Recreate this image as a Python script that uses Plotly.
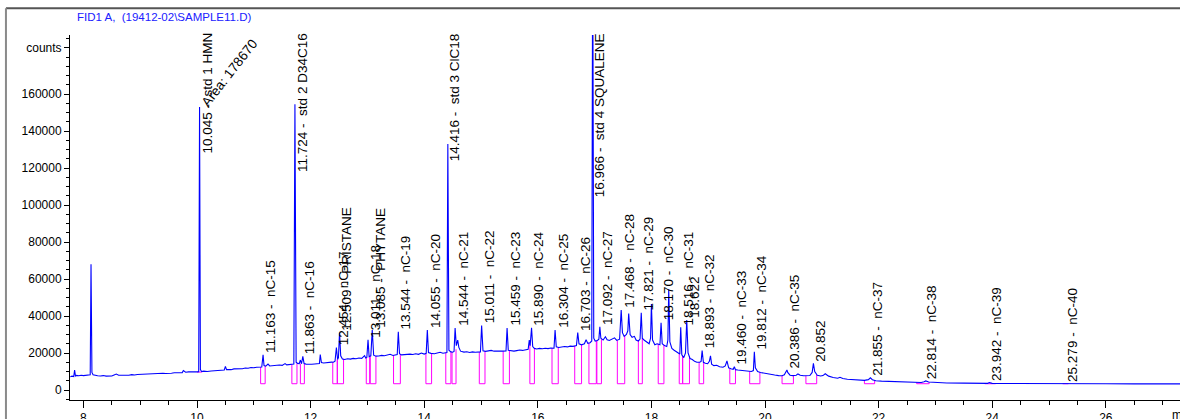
import plotly.graph_objects as go

# ---------------- data ----------------
rt_min = [
    7.77, 7.80, 7.83, 7.845, 7.86, 7.88, 7.92, 7.96, 8.00, 8.05,
    8.10, 8.12, 8.134, 8.15, 8.17, 8.20, 8.25, 8.30, 8.35, 8.40,
    8.45, 8.50, 8.55, 8.58, 8.62, 8.70, 8.75, 8.80, 8.85, 8.90,
    8.95, 9.00, 9.05, 9.10, 9.15, 9.20, 9.25, 9.30, 9.35, 9.40,
    9.45, 9.50, 9.55, 9.60, 9.65, 9.70, 9.74, 9.76, 9.80, 9.85,
    9.90, 9.95, 10.00, 10.03, 10.045, 10.06, 10.08, 10.12, 10.18, 10.25,
    10.30, 10.35, 10.40, 10.45, 10.48, 10.50, 10.52, 10.56, 10.60, 10.65,
    10.70, 10.75, 10.80, 10.85, 10.90, 10.95, 11.00, 11.05, 11.10, 11.14,
    11.163, 11.18, 11.21, 11.25, 11.28, 11.33, 11.40, 11.45, 11.50, 11.55,
    11.58, 11.62, 11.67, 11.705, 11.724, 11.745, 11.77, 11.80, 11.82, 11.84,
    11.863, 11.885, 11.92, 11.97, 12.02, 12.07, 12.12, 12.155, 12.17, 12.19,
    12.23, 12.28, 12.33, 12.37, 12.40, 12.43, 12.454, 12.475, 12.49, 12.509,
    12.53, 12.56, 12.60, 12.65, 12.70, 12.75, 12.80, 12.85, 12.90, 12.95,
    12.97, 12.99, 13.011, 13.03, 13.06, 13.085, 13.11, 13.15, 13.20, 13.25,
    13.30, 13.35, 13.40, 13.45, 13.50, 13.525, 13.544, 13.565, 13.60, 13.65,
    13.70, 13.75, 13.80, 13.85, 13.90, 13.95, 14.00, 14.035, 14.055, 14.075,
    14.12, 14.18, 14.23, 14.28, 14.33, 14.38, 14.40, 14.416, 14.435, 14.47,
    14.50, 14.525, 14.544, 14.565, 14.59, 14.61, 14.64, 14.70, 14.75, 14.80,
    14.85, 14.90, 14.95, 14.99, 15.011, 15.035, 15.08, 15.13, 15.18, 15.23,
    15.28, 15.33, 15.38, 15.44, 15.459, 15.48, 15.53, 15.58, 15.63, 15.68,
    15.73, 15.78, 15.83, 15.85, 15.865, 15.89, 15.91, 15.94, 15.98, 16.03,
    16.08, 16.13, 16.18, 16.23, 16.285, 16.304, 16.325, 16.37, 16.42, 16.47,
    16.52, 16.57, 16.62, 16.68, 16.703, 16.725, 16.77, 16.82, 16.85, 16.88,
    16.92, 16.95, 16.966, 16.985, 17.01, 17.05, 17.075, 17.092, 17.11, 17.15,
    17.19, 17.22, 17.26, 17.31, 17.35, 17.39, 17.44, 17.468, 17.49, 17.52,
    17.56, 17.585, 17.60, 17.625, 17.66, 17.70, 17.73, 17.77, 17.80, 17.821,
    17.84, 17.87, 17.92, 17.96, 17.985, 18.00, 18.02, 18.06, 18.10, 18.15,
    18.170, 18.19, 18.23, 18.27, 18.29, 18.305, 18.325, 18.36, 18.40, 18.45,
    18.50, 18.516, 18.535, 18.57, 18.60, 18.622, 18.645, 18.68, 18.72, 18.76,
    18.80, 18.85, 18.875, 18.893, 18.915, 18.95, 18.99, 19.02, 19.04, 19.06,
    19.10, 19.15, 19.20, 19.26, 19.30, 19.33, 19.36, 19.40, 19.44, 19.46,
    19.48, 19.52, 19.58, 19.64, 19.70, 19.76, 19.795, 19.812, 19.83, 19.87,
    19.92, 19.97, 20.03, 20.10, 20.17, 20.24, 20.30, 20.34, 20.37, 20.386,
    20.40, 20.44, 20.49, 20.55, 20.58, 20.62, 20.68, 20.74, 20.79, 20.83,
    20.852, 20.875, 20.92, 20.98, 21.02, 21.06, 21.12, 21.20, 21.28, 21.32,
    21.37, 21.45, 21.55, 21.65, 21.75, 21.82, 21.855, 21.89, 21.95, 22.05,
    22.20, 22.40, 22.60, 22.75, 22.80, 22.83, 22.88, 23.00, 23.20, 23.50,
    23.80, 23.92, 23.95, 24.00, 24.30, 24.60, 25.00, 25.27, 25.30, 25.60,
    26.00, 26.50, 27.00, 27.31,
]
counts = [
    7200, 7500, 7300, 10800, 7600, 7900, 7700, 8000, 7800, 7900,
    7800, 8200, 68000, 9500, 8300, 8000, 7700, 7600, 7800, 7500,
    7700, 7600, 8300, 8600, 8000, 7900, 8200, 8000, 8300, 8100,
    8400, 8500, 8300, 8600, 8500, 8800, 8600, 8900, 8800, 9100,
    8900, 9200, 9100, 9300, 9200, 9500, 9400, 10500, 9600, 9800,
    9700, 9900, 9800, 9900, 153000, 11000, 10000, 10200, 10000, 10300,
    10400, 10600, 10500, 10900, 10800, 12800, 11000, 11100, 11000, 11400,
    11300, 11600, 11500, 11900, 11800, 12200, 12000, 12300, 12500, 12400,
    19000, 13200, 12900, 14000, 13000, 13200, 13100, 13500, 13300, 14300,
    13600, 13700, 13600, 14000, 154500, 15000, 14400, 14300, 16200, 14200,
    18200, 14300, 14000, 13800, 13900, 14100, 14000, 14300, 19200, 14800,
    14600, 14900, 15000, 15100, 15000, 15600, 23000, 16500, 17500, 31000,
    18500, 16800, 16500, 16900, 16700, 17100, 16900, 17300, 17100, 18600,
    17300, 17600, 27200, 18000, 18500, 32400, 18800, 18300, 18400, 18700,
    18500, 18800, 19300, 18700, 18900, 19200, 31500, 19600, 19000, 19200,
    19100, 19400, 19200, 19600, 19300, 20000, 19400, 19800, 32400, 20200,
    19800, 19600, 20000, 20400, 19900, 20100, 20300, 133000, 21500, 20600,
    20400, 20800, 33500, 24000, 27000, 23000, 21000, 20500, 20700, 20300,
    20600, 20400, 20700, 20600, 34800, 21200, 20900, 21100, 21400, 21000,
    20900, 21200, 21000, 21100, 33500, 21500, 21200, 21000, 21300, 21600,
    21400, 21700, 22000, 27000, 24000, 33700, 23500, 22500, 22200, 22500,
    22300, 22600, 22400, 22700, 22600, 32400, 23300, 23000, 23300, 23500,
    23300, 23700, 23600, 24000, 31000, 25000, 24400, 25000, 27200, 25200,
    25600, 26500, 250000, 28000, 26500, 26800, 27500, 34200, 28000, 27000,
    28800, 27200, 26800, 27400, 28200, 26800, 27500, 43200, 31000, 29000,
    30000, 32000, 41400, 30000, 28500, 29000, 27000, 26500, 27500, 41800,
    28000, 27000, 26000, 25000, 28000, 46500, 27000, 24500, 25000, 24500,
    36400, 25000, 24000, 23500, 27000, 54400, 26000, 22500, 21500, 20500,
    19500, 33900, 19000, 17500, 20000, 37800, 20000, 17000, 16500, 15500,
    15000, 15000, 15500, 21300, 15000, 14500, 14200, 15500, 18500, 14000,
    13200, 13400, 12600, 12300, 13000, 15700, 12000, 11500, 11200, 12600,
    11000, 10800, 10600, 10500, 10200, 10000, 10500, 20700, 12000, 10000,
    9500, 9300, 8800, 8500, 8100, 7800, 7700, 8200, 9500, 10800,
    9500, 8000, 7800, 8000, 8700, 8000, 7700, 7600, 7800, 9500,
    14400, 10000, 8000, 7600, 7800, 8800, 7500, 6800, 6400, 6900,
    6200, 5800, 5600, 5400, 5200, 5600, 6600, 5600, 5000, 4800,
    4600, 4400, 4200, 4100, 4500, 4900, 4300, 4000, 3800, 3700,
    3600, 3600, 4000, 3600, 3500, 3400, 3400, 3400, 3500, 3350,
    3350, 3300, 3300, 3300,
]

# peak labels
label_rt = [10.045, 11.163, 11.724, 11.863, 12.454, 12.509, 13.011, 13.085,
            13.544, 14.055, 14.416, 14.544, 15.011, 15.459, 15.890, 16.304,
            16.703, 16.966, 17.092, 17.468, 17.821, 18.170, 18.516, 18.622,
            18.893, 19.460, 19.812, 20.386, 20.852, 21.855, 22.814, 23.942,
            25.279]
label_name = ["std 1 HMN", "nC-15", "std 2 D34C16", "nC-16", "nC-17", "PRISTANE",
              "nC-18", "PHYTANE", "nC-19", "nC-20", "std 3 ClC18", "nC-21",
              "nC-22", "nC-23", "nC-24", "nC-25", "nC-26", "std 4 SQUALENE",
              "nC-27", "nC-28", "nC-29", "nC-30", "nC-31", "", "nC-32", "nC-33",
              "nC-34", "nC-35", "", "nC-37", "nC-38", "nC-39", "nC-40"]
label_apex = [153000, 19000, 154500, 18200, 23000, 31000, 27200, 32400,
              31500, 32400, 133000, 33500, 34800, 33500, 33700, 32400,
              31000, 250000, 34200, 43200, 41800, 36400, 33900, 37800,
              21300, 12600, 20700, 10800, 14400, 6600, 4900, 4000,
              3500]
tall_label_rt = [10.045, 11.724, 14.416, 16.966]
area_text = "Area: 178670"

# integration baseline events
int_start = [10.00, 11.12, 11.67, 11.82, 12.39, 12.47, 12.98, 13.05, 13.46, 14.03,
             14.38, 14.49, 14.97, 15.39, 15.86, 16.25, 16.65, 16.90, 17.04, 17.40,
             17.77, 18.12, 18.49, 18.55, 18.84, 19.38, 19.73, 20.30, 20.72, 21.75,
             22.67, 23.87, 25.24]
int_end = [10.09, 11.20, 11.76, 11.89, 12.47, 12.58, 13.04, 13.15, 13.58, 14.13,
           14.47, 14.56, 15.07, 15.50, 15.94, 16.36, 16.77, 17.03, 17.12, 17.53,
           17.84, 18.22, 18.55, 18.67, 18.92, 19.48, 19.91, 20.50, 20.91, 21.93,
           22.89, 24.06, 25.34]
int_level_start = [9700, 12500, 13600, 14200, 15000, 16500, 17400, 18200, 18800, 19700,
                   20100, 20400, 20600, 21000, 25000, 22600, 23800, 25500, 26800, 26800,
                   26500, 25000, 19800, 18300, 15000, 11500, 10100, 7700, 7600, 5200,
                   4150, 3600, 3400]
int_level_end = [9900, 13100, 14400, 14200, 16500, 16900, 18200, 18300, 19200, 19800,
                 20600, 22000, 21000, 21300, 22500, 23000, 24400, 26600, 27500, 29500,
                 28000, 24500, 18300, 18000, 15000, 11000, 9600, 7800, 8200, 5200,
                 4300, 3600, 3500]
int_floor = [9700] + [3400] * 32

y_tick_vals = [0, 20000, 40000, 60000, 80000, 100000, 120000, 140000, 160000, 185000]
y_tick_text = ["0", "20000", "40000", "60000", "80000", "100000", "120000",
               "140000", "160000", "counts"]
x_tick_vals = [8, 10, 12, 14, 16, 18, 20, 22, 24, 26]
title_text = "FID1 A,  (19412-02\\SAMPLE11.D)"

# ---------------- figure ----------------
FONT = "Arial, 'Liberation Sans', sans-serif"
fig = go.Figure()

# integration markers (magenta)
px, py = [], []
for s, e, ls, le, fl in zip(int_start, int_end, int_level_start, int_level_end, int_floor):
    px += [s, s, e, e, None]
    py += [ls, fl, fl, le, None]
fig.add_trace(go.Scatter(x=px, y=py, mode="lines",
                         line=dict(color="#ff00ff", width=1), hoverinfo="skip"))

# signal
fig.add_trace(go.Scatter(x=rt_min, y=counts, mode="lines",
                         line=dict(color="#0000ff", width=1.1), hoverinfo="skip"))

annotations = []
for rt, name, apex in zip(label_rt, label_name, label_apex):
    txt = f"{rt:.3f} -  {name}" if name else f"{rt:.3f}"
    if rt in tall_label_rt:
        annotations.append(dict(x=rt, y=1.011, xref="x", yref="paper", text=txt,
                                textangle=-90, xanchor="left", yanchor="top",
                                xshift=-2, showarrow=False,
                                font=dict(family=FONT, size=13.5, color="#000000")))
    else:
        annotations.append(dict(x=rt, y=apex, xref="x", yref="y", text=txt,
                                textangle=-90, xanchor="left", yanchor="bottom",
                                xshift=-2, showarrow=False,
                                font=dict(family=FONT, size=13.5, color="#000000")))

annotations.append(dict(x=10.58, y=171500, xref="x", yref="y", text=area_text,
                        textangle=-52, xanchor="center", yanchor="middle",
                        showarrow=False,
                        font=dict(family=FONT, size=13.5, color="#000000")))
annotations.append(dict(x=0.0045, y=1.049, xref="paper", yref="paper", text=title_text,
                        xanchor="left", yanchor="middle", showarrow=False,
                        font=dict(family=FONT, size=11.5, color="#2020ff")))
annotations.append(dict(x=0.991, y=-0.017, xref="paper", yref="paper", text="min",
                        xanchor="left", yanchor="top", showarrow=False,
                        font=dict(family=FONT, size=12, color="#000000")))

shapes = [
    dict(type="line", xref="paper", yref="paper", x0=-0.0577, x1=1.01, y0=1.073, y1=1.073,
         line=dict(color="#555555", width=2)),
    dict(type="line", xref="paper", yref="paper", x0=-0.0577, x1=-0.0577, y0=1.073, y1=-0.06,
         line=dict(color="#8a8a8a", width=2)),
]

fig.update_layout(
    width=1180, height=419, autosize=False,
    margin=dict(l=70, r=0, t=35, b=19, autoexpand=False),
    paper_bgcolor="white", plot_bgcolor="white",
    showlegend=False,
    annotations=annotations, shapes=shapes,
    font=dict(family=FONT, size=12, color="#000000"),
)
fig.update_xaxes(
    range=[7.764, 27.306], showgrid=False, zeroline=False, automargin=False,
    showline=True, linecolor="#000000", linewidth=1,
    tickmode="array", tickvals=x_tick_vals,
    ticks="outside", ticklen=7, tickcolor="#000000", tickwidth=1,
    tickfont=dict(family=FONT, size=12, color="#000000"),
    minor=dict(dtick=0.5, tick0=0, ticks="outside", ticklen=4, tickcolor="#000000"),
)
fig.update_yaxes(
    range=[-5400, 191900], showgrid=False, zeroline=False, automargin=False,
    showline=True, linecolor="#000000", linewidth=1,
    tickmode="array", tickvals=y_tick_vals, ticktext=y_tick_text,
    ticks="outside", ticklen=5, tickcolor="#000000", tickwidth=1,
    tickfont=dict(family=FONT, size=12, color="#000000"),
    minor=dict(dtick=5000, tick0=0, ticks="outside", ticklen=3, tickcolor="#000000"),
)

fig.write_html("out.html", config={"displayModeBar": False},
               post_script="document.body.style.margin='0';")
